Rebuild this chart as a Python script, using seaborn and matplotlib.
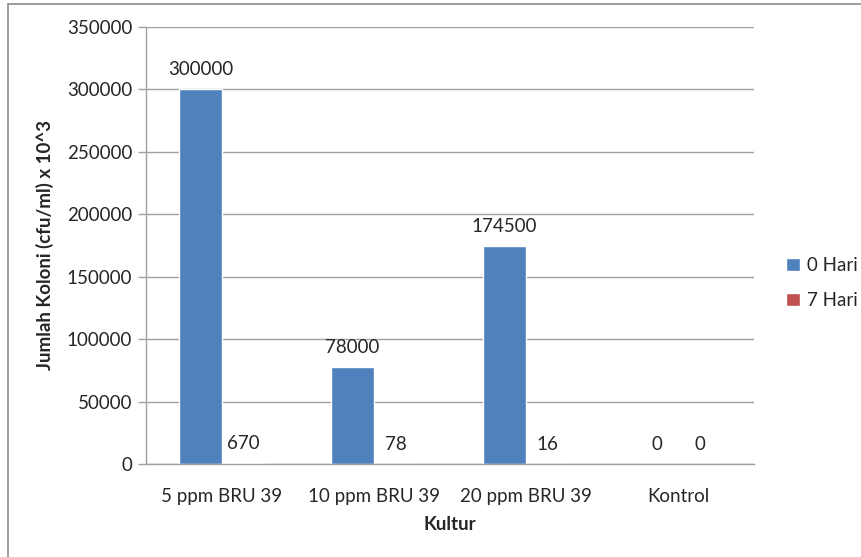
import matplotlib
matplotlib.use("Agg")
import matplotlib.pyplot as plt
import seaborn as sns
import pandas as pd
from matplotlib.patches import Rectangle

categories = ["5 ppm BRU 39", "10 ppm BRU 39", "20 ppm BRU 39", "Kontrol"]
hari_0 = [300000, 78000, 174500, 0]
hari_7 = [670, 78, 16, 0]
series = ["0 Hari", "7 Hari"]
colors = ["#4F81BD", "#C0504D"]
y_ticks = [0, 50000, 100000, 150000, 200000, 250000, 300000, 350000]

df = pd.DataFrame({
    "Kultur": categories * 2,
    "Nilai": hari_0 + hari_7,
    "Seri": [series[0]] * len(categories) + [series[1]] * len(categories),
})

sns.set_style("white")
plt.rcParams["font.family"] = ["Lato", "DejaVu Sans"]

fs = 13.5

fig = plt.figure(figsize=(8.62, 5.57), dpi=100)
ax = fig.add_axes([146 / 862, 1 - 464 / 557, (754 - 146) / 862, (464 - 27) / 557])

sns.barplot(data=df, x="Kultur", y="Nilai", hue="Seri", palette=colors,
            width=0.566, gap=0, saturation=1, ax=ax, legend=True)

ax.set_ylim(0, 350000)
ax.set_xlim(-0.5, len(categories) - 0.5)
ax.set_yticks(y_ticks)
ax.set_yticklabels([str(v) for v in y_ticks], fontsize=fs)
ax.tick_params(axis="x", labelsize=fs, length=0, pad=17)
ax.tick_params(axis="y", length=6, color="#A0A0A0", width=1, pad=4, left=True)
ax.grid(axis="y", color="#A0A0A0", linewidth=1)
ax.set_axisbelow(True)
for s in ["top", "right"]:
    ax.spines[s].set_visible(False)
for s in ["left", "bottom"]:
    ax.spines[s].set_color("#A0A0A0")
    ax.spines[s].set_linewidth(1)

ax.set_xlabel("Kultur", fontsize=fs, fontweight="bold", labelpad=8)
ax.set_ylabel("Jumlah Koloni (cfu/ml) x 10^3", fontsize=fs, fontweight="bold", labelpad=9)

for cont in ax.containers:
    ax.bar_label(cont, labels=[f"{int(v)}" for v in cont.datavalues], padding=8, fontsize=fs)

handles, labels = ax.get_legend_handles_labels()
ax.legend(handles, labels, loc="center left", bbox_to_anchor=(779 / 862, 1 - 283 / 557),
          bbox_transform=fig.transFigure, frameon=False,
          fontsize=fs, handlelength=0.7, handleheight=0.7, handletextpad=0.4, labelspacing=1.0,
          borderaxespad=0)

fig.patches.append(Rectangle((8 / 862, -0.1), 1.2, (557 - 4) / 557 + 0.1, transform=fig.transFigure,
                             fill=False, edgecolor="#8C8C8C", linewidth=1.2))

fig.savefig("out.png", dpi=100)
